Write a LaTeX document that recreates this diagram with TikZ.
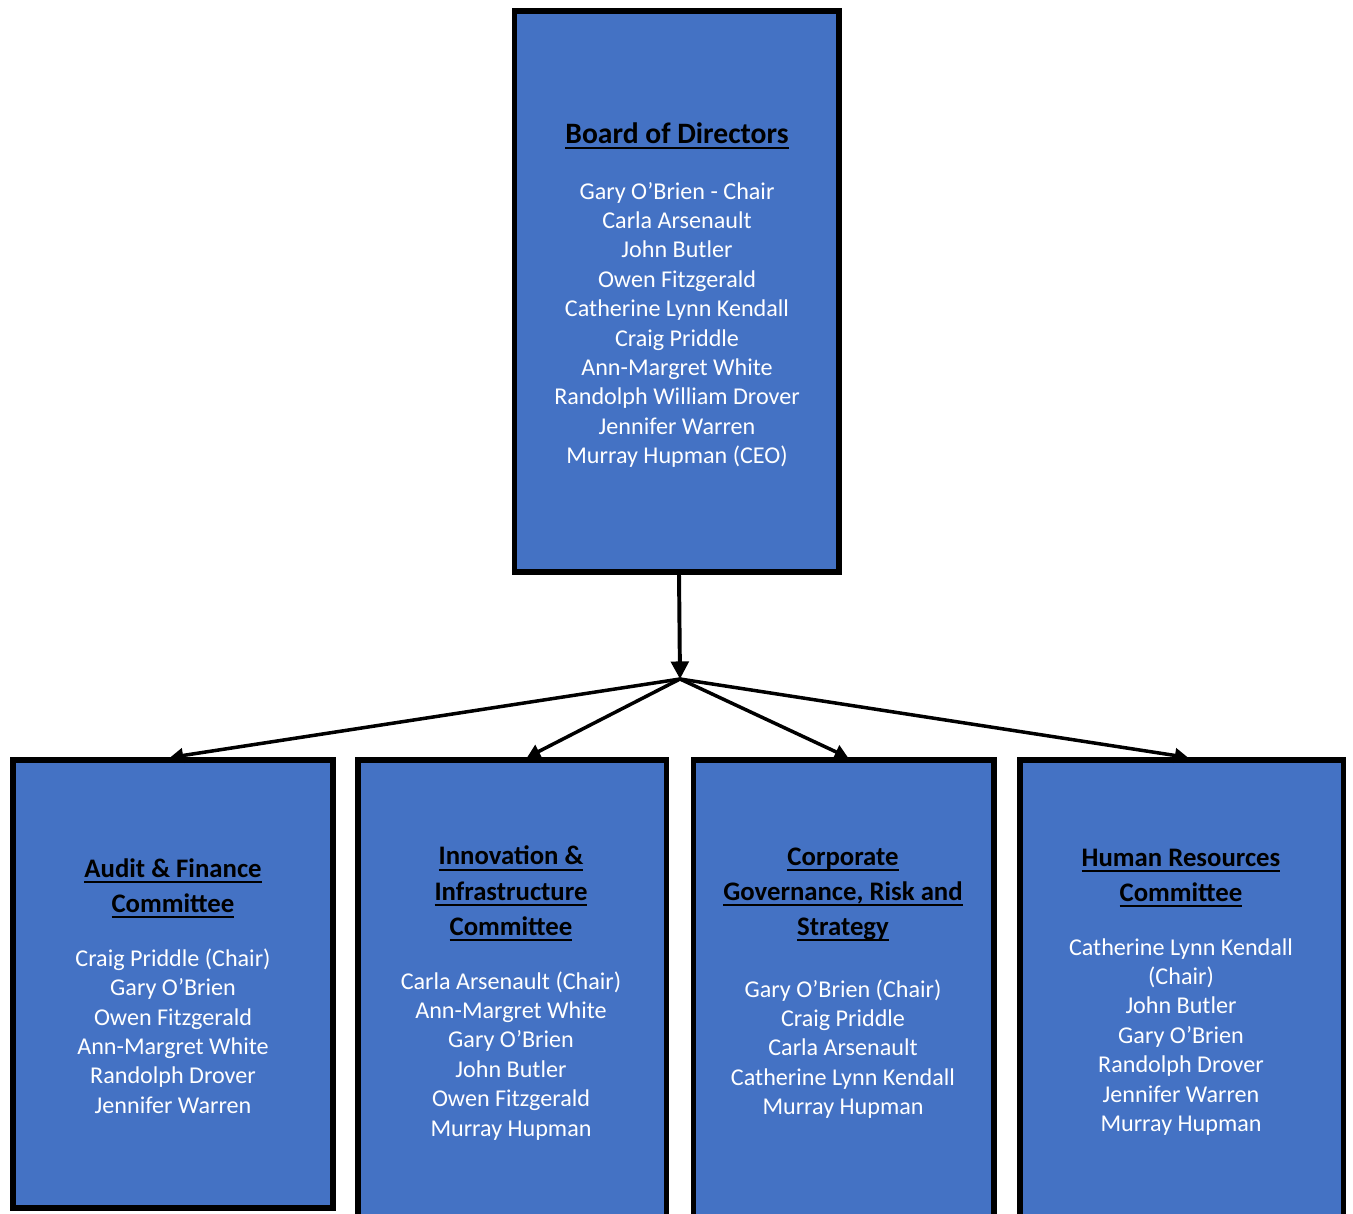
\documentclass[tikz,border=0pt]{standalone}
\usepackage{fontspec}
\setmainfont{Carlito}
\usetikzlibrary{arrows.meta,positioning,fit}
\definecolor{boxblue}{HTML}{4472C4}
\newcommand{\uln}[1]{\vtop{\hbox{\raisebox{0pt}[\height][0pt]{#1}}\kern1.7pt\hrule height 0.9pt}}
\newcommand{\ttl}[1]{{\fontsize{12.2}{16}\selectfont\bfseries\color{black}\uln{#1}}}
\newcommand{\bigttl}[1]{{\fontsize{13.5}{16}\selectfont\bfseries\color{black}\uln{#1}}}
\tikzset{box/.style={draw=black,line width=2.3pt,fill=boxblue,inner sep=0pt},names/.style={align=center,text=white,font=\fontsize{11}{13.4}\selectfont},arr/.style={-{Triangle[length=8pt,width=8pt]},line width=1.8pt},link/.style={-{Triangle[length=6pt,width=6.5pt]},line width=1.6pt}}

\begin{document}
\begin{tikzpicture}[x=0.456pt,y=-0.456pt]
\useasboundingbox (0,0) rectangle (1353,1213);
\clip (0,0) rectangle (1353,1213);
% boxes
\node[box,fit={(514.5,11) (839,572)}] (board) {};
\node[box,fit={(13,760) (333,1208)}] (audit) {};
\node[box,fit={(358,760) (666.5,1235)}] (innov) {};
\node[box,fit={(693.5,760) (994,1235)}] (gov) {};
\node[box,fit={(1020,760) (1343.5,1235)}] (hr) {};
% texts
\node[names] (boardtxt) at (677,295) {\bigttl{Board of Directors}\\[12.1pt]
Gary O’Brien - Chair\\Carla Arsenault\\John Butler\\Owen Fitzgerald\\Catherine Lynn Kendall\\Craig Priddle\\Ann-Margret White\\Randolph William Drover\\Jennifer Warren\\Murray Hupman (CEO)};
\node[names] (audittxt) at (173,986) {\ttl{Audit \& Finance}\\[2.6pt]\ttl{Committee}\\[11.2pt]
Craig Priddle (Chair)\\Gary O’Brien\\Owen Fitzgerald\\Ann-Margret White\\Randolph Drover\\Jennifer Warren};
\node[names] (innovtxt) at (511,993) {\ttl{Innovation \&}\\[2.6pt]\ttl{Infrastructure}\\[2.6pt]\ttl{Committee}\\[11.2pt]
Carla Arsenault (Chair)\\Ann-Margret White\\Gary O’Brien\\John Butler\\Owen Fitzgerald\\Murray Hupman};
\node[names] (govtxt) at (843,983) {\ttl{Corporate}\\[2.6pt]\ttl{Governance, Risk and}\\[2.6pt]\ttl{Strategy}\\[14.8pt]
Gary O’Brien (Chair)\\Craig Priddle\\Carla Arsenault\\Catherine Lynn Kendall\\Murray Hupman};
\node[names] (hrtxt) at (1181,992) {\ttl{Human Resources}\\[2.6pt]\ttl{Committee}\\[11.2pt]
Catherine Lynn Kendall\\(Chair)\\John Butler\\Gary O’Brien\\Randolph Drover\\Jennifer Warren\\Murray Hupman};
% connectors
\coordinate (hub) at (680,679);
\draw[arr] (board.south -| 679,0) -- (hub);
\draw[link] (hub) -- (audit.north -| 170,0);
\draw[link] (hub) -- (innov.north -| 527,0);
\draw[link] (hub) -- (gov.north -| 848,0);
\draw[link] (hub) -- (hr.north -| 1188,0);
\end{tikzpicture}
\end{document}
